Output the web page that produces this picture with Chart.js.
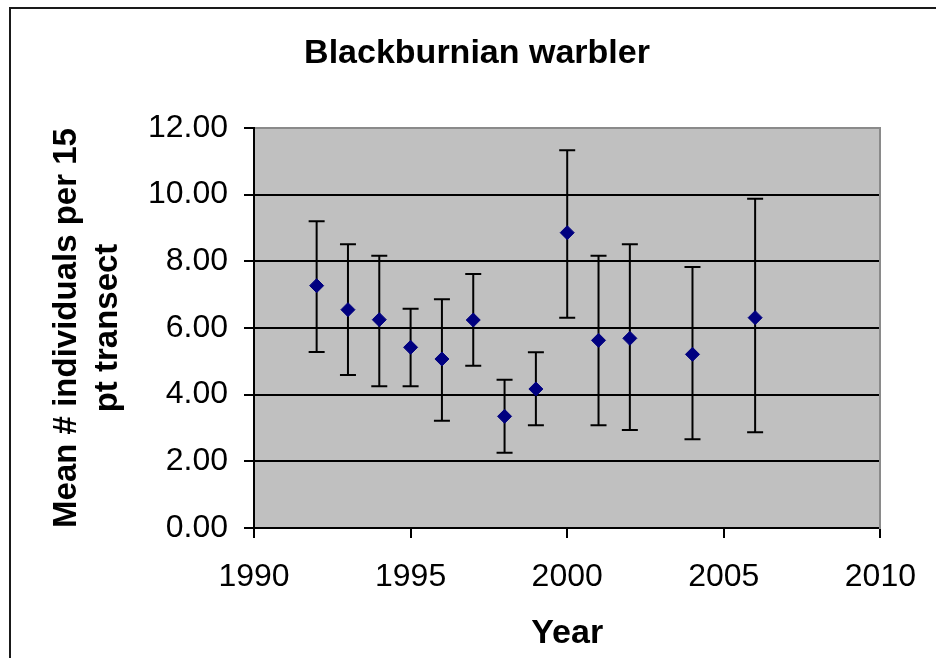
<!DOCTYPE html>
<html>
<head>
<meta charset="utf-8">
<script src="https://cdn.jsdelivr.net/npm/chart.js@4.4.0/dist/chart.umd.min.js"></script>
<style>
  html, body { margin: 0; padding: 0; background: #ffffff; overflow: hidden; }
  #wrap { position: relative; width: 936px; height: 658px; }
</style>
</head>
<body>
<div id="wrap"><canvas id="c" width="936" height="658"></canvas></div>
<script>
const chartTitle = "Blackburnian warbler";
const xTitle = "Year";
const yTitle = ["Mean # individuals per 15", "pt transect"];
const years = [1992, 1993, 1994, 1995, 1996, 1997, 1998, 1999, 2000, 2001, 2002, 2004, 2006];
const means = [7.27, 6.55, 6.25, 5.42, 5.07, 6.24, 3.35, 4.17, 8.86, 5.63, 5.69, 5.21, 6.31];
const upper = [9.20, 8.51, 8.17, 6.58, 6.86, 7.62, 4.45, 5.27, 11.33, 8.17, 8.51, 7.83, 9.88];
const lower = [5.28, 4.59, 4.25, 4.25, 3.22, 4.87, 2.26, 3.08, 6.31, 3.08, 2.94, 2.66, 2.87];
const xMin = 1990, xMax = 2010, xStep = 5;
const yMin = 0, yMax = 12, yStep = 2;

const FONT = "'Liberation Sans', Arial, sans-serif";

const framePlugin = {
  id: 'frame',
  beforeDraw(chart) {
    const ctx = chart.ctx;
    const a = chart.chartArea;
    ctx.save();
    ctx.fillStyle = '#ffffff';
    ctx.fillRect(0, 0, chart.width, chart.height);
    ctx.strokeStyle = '#1a1a1a';
    ctx.lineWidth = 2;
    ctx.strokeRect(10, 8, chart.width + 20, chart.height + 20);
    ctx.fillStyle = '#c0c0c0';
    ctx.fillRect(a.left, a.top, a.right - a.left, a.bottom - a.top);
    ctx.restore();
  }
};

const errorBarPlugin = {
  id: 'errorBars',
  beforeDatasetsDraw(chart) {
    const ctx = chart.ctx;
    const xs = chart.scales.x, ys = chart.scales.y;
    ctx.save();
    ctx.strokeStyle = '#000000';
    ctx.lineWidth = 2;
    const cap = 8;
    for (let i = 0; i < years.length; i++) {
      const px = xs.getPixelForValue(years[i]);
      const pt = ys.getPixelForValue(upper[i]);
      const pb = ys.getPixelForValue(lower[i]);
      ctx.beginPath();
      ctx.moveTo(px, pt); ctx.lineTo(px, pb);
      ctx.moveTo(px - cap, pt); ctx.lineTo(px + cap, pt);
      ctx.moveTo(px - cap, pb); ctx.lineTo(px + cap, pb);
      ctx.stroke();
    }
    ctx.restore();
  }
};

new Chart(document.getElementById('c'), {
  type: 'scatter',
  data: {
    datasets: [{
      label: 'Mean',
      data: years.map((y, i) => ({ x: y, y: means[i] })),
      pointStyle: 'rectRot',
      pointRadius: 7,
      pointHoverRadius: 7,
      backgroundColor: '#000080',
      borderColor: '#000080',
      borderWidth: 1,
      showLine: false
    }]
  },
  options: {
    responsive: false,
    animation: false,
    devicePixelRatio: 1,
    layout: { padding: { left: 18, right: 0, top: 0, bottom: 0 } },
    plugins: {
      legend: { display: false },
      tooltip: { enabled: false },
      title: {
        display: true,
        text: chartTitle,
        color: '#000000',
        font: { family: FONT, size: 34, weight: 'bold', lineHeight: 1.2 },
        padding: { top: 33.6, bottom: 53.6 }
      }
    },
    scales: {
      x: {
        type: 'linear',
        position: 'bottom',
        min: xMin, max: xMax,
        afterFit(scale) { scale.height = 130; },
        ticks: {
          stepSize: xStep,
          color: '#000000',
          padding: 20,
          font: { family: FONT, size: 32 },
          callback: v => String(v)
        },
        grid: { drawOnChartArea: false, drawTicks: true, tickLength: 10, color: '#000000', lineWidth: 2 },
        border: { display: true, color: '#000000', width: 2 },
        title: {
          display: true,
          text: xTitle,
          color: '#000000',
          font: { family: FONT, size: 34, weight: 'bold', lineHeight: 1.2 },
          padding: { top: 0, bottom: 3.6 }
        }
      },
      y: {
        type: 'linear',
        position: 'left',
        min: yMin, max: yMax,
        afterFit(scale) { scale.width = 236; },
        ticks: {
          stepSize: yStep,
          color: '#000000',
          padding: 16,
          font: { family: FONT, size: 32 },
          callback: v => Number(v).toFixed(2)
        },
        grid: {
          drawOnChartArea: true,
          drawTicks: true,
          tickLength: 10,
          lineWidth: 2,
          color: ctx => (ctx.tick && ctx.tick.value === yMax) ? '#8a8a8a' : '#000000',
          tickColor: '#000000'
        },
        border: { display: true, color: '#000000', width: 2 },
        title: {
          display: true,
          text: yTitle,
          color: '#000000',
          font: { family: FONT, size: 33, weight: 'bold', lineHeight: 1.25 },
          padding: { top: 28.4, bottom: 0 }
        }
      },
      yRight: {
        type: 'linear',
        position: 'right',
        min: yMin, max: yMax,
        afterFit(scale) { scale.width = 53; },
        ticks: { display: false },
        grid: { drawOnChartArea: false, drawTicks: false },
        border: { display: true, color: '#8a8a8a', width: 2 }
      }
    }
  },
  plugins: [framePlugin, errorBarPlugin]
});
</script>
</body>
</html>
